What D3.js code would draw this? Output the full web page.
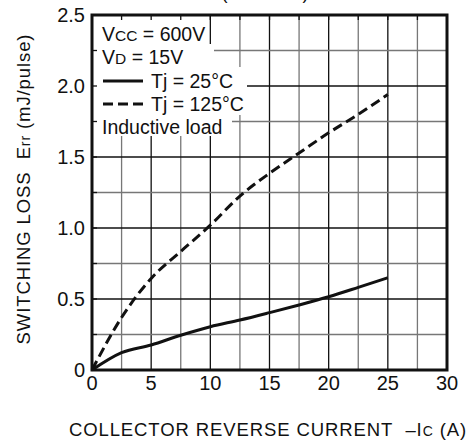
<!DOCTYPE html>
<html>
<head>
<meta charset="utf-8">
<style>
  body { margin: 0; background: #fff; }
  svg text { font-family: "Liberation Sans", Arial, sans-serif; fill: #111; }
</style>
</head>
<body>
<svg id="chart" width="470" height="445"></svg>
<script src="https://cdn.jsdelivr.net/npm/d3@7/dist/d3.min.js"></script>
<script>
// collector reverse current (A)
const current = [0, 2.5, 5, 7.5, 10, 12.5, 15, 17.5, 20, 22.5, 25];
// Err at Tj = 25C (solid) and Tj = 125C (dashed), mJ/pulse
const err25 = [0, 0.122, 0.176, 0.245, 0.305, 0.352, 0.404, 0.458, 0.516, 0.582, 0.65];
const err125 = [0, 0.37, 0.645, 0.835, 1.02, 1.225, 1.385, 1.528, 1.67, 1.8, 1.94];
const xTicks = [0, 5, 10, 15, 20, 25, 30];
const yTicks = [0, 0.5, 1.0, 1.5, 2.0, 2.5];
const yTickLabels = ["0", "0.5", "1.0", "1.5", "2.0", "2.5"];

const L = 92, R = 447, T = 15, B = 370;
const svg = d3.select("#chart");
const x = d3.scaleLinear().domain([0, 30]).range([L, R]);
const y = d3.scaleLinear().domain([0, 2.5]).range([B, T]);

const xGrid = d3.range(2.5, 30, 2.5);
const yGrid = d3.range(0.25, 2.5, 0.25);
const isMajor = (v, step) => Math.abs(v / step - Math.round(v / step)) < 1e-6;

// grid
svg.append("g").selectAll("line").data(xGrid).join("line")
  .attr("x1", d => x(d)).attr("x2", d => x(d)).attr("y1", T).attr("y2", B)
  .attr("stroke", d => isMajor(d, 5) ? "#111" : "#777").attr("stroke-width", 1.3);
svg.append("g").selectAll("line").data(yGrid).join("line")
  .attr("y1", d => y(d)).attr("y2", d => y(d)).attr("x1", L).attr("x2", R)
  .attr("stroke", d => isMajor(d, 0.5) ? "#111" : "#777").attr("stroke-width", 1.3);

// white boxes behind the legend text
const boxes = [[207, T, 44], [214, 44, 67], [247, 67, 92], [247, 92, 115], [232, 115, 136]];
svg.append("g").selectAll("rect").data(boxes).join("rect")
  .attr("x", L).attr("y", d => d[1]).attr("width", d => d[0] - L).attr("height", d => d[2] - d[1])
  .attr("fill", "#fff");

// small inner ticks on top and left edges
svg.append("g").selectAll("line").data(xGrid).join("line")
  .attr("x1", d => x(d)).attr("x2", d => x(d)).attr("y1", T).attr("y2", T + 5)
  .attr("stroke", "#111").attr("stroke-width", 1.3);
svg.append("g").selectAll("line").data(yGrid).join("line")
  .attr("y1", d => y(d)).attr("y2", d => y(d)).attr("x1", L).attr("x2", L + 5)
  .attr("stroke", "#111").attr("stroke-width", 1.3);

// curves
const line = d3.line().x(d => x(d[0])).y(d => y(d[1])).curve(d3.curveMonotoneX);
svg.append("path").datum(d3.zip(current, err25)).attr("d", line)
  .attr("fill", "none").attr("stroke", "#111").attr("stroke-width", 3);
svg.append("path").datum(d3.zip(current, err125)).attr("d", line)
  .attr("fill", "none").attr("stroke", "#111").attr("stroke-width", 3)
  .attr("stroke-dasharray", "10,5");

// frame
svg.append("rect").attr("x", L).attr("y", T).attr("width", R - L).attr("height", B - T)
  .attr("fill", "none").attr("stroke", "#111").attr("stroke-width", 3);

// tick labels
svg.append("g").selectAll("text").data(xTicks).join("text")
  .attr("x", d => x(d)).attr("y", 390).attr("text-anchor", "middle")
  .attr("font-size", 20).text(d => d);
svg.append("g").selectAll("text").data(yTicks).join("text")
  .attr("x", 85).attr("y", d => y(d)).attr("dy", "0.35em").attr("text-anchor", "end")
  .attr("font-size", 20).text((d, i) => yTickLabels[i]);

// legend
const lg = svg.append("g").attr("font-size", 19.5);
const t1 = lg.append("text").attr("x", 102).attr("y", 41);
t1.append("tspan").text("V");
t1.append("tspan").attr("font-size", 15.5).text("CC");
t1.append("tspan").text(" = 600V");
const t2 = lg.append("text").attr("x", 102).attr("y", 64);
t2.append("tspan").text("V");
t2.append("tspan").attr("font-size", 15.5).text("D");
t2.append("tspan").text(" = 15V");
lg.append("line").attr("x1", 103).attr("x2", 143).attr("y1", 81).attr("y2", 81)
  .attr("stroke", "#111").attr("stroke-width", 3);
lg.append("text").attr("x", 151).attr("y", 88).text("Tj = 25°C");
lg.append("line").attr("x1", 103).attr("x2", 143).attr("y1", 104).attr("y2", 104)
  .attr("stroke", "#111").attr("stroke-width", 3).attr("stroke-dasharray", "10,5");
lg.append("text").attr("x", 151).attr("y", 111).text("Tj = 125°C");
lg.append("text").attr("x", 102).attr("y", 134).text("Inductive load");

// axis titles
const yt = svg.append("text").attr("transform", "translate(30,189) rotate(-90)")
  .attr("text-anchor", "middle").attr("font-size", 18.5).attr("letter-spacing", 0.9);
yt.append("tspan").text("SWITCHING LOSS\u00a0\u00a0E");
yt.append("tspan").attr("font-size", 14).text("rr");
yt.append("tspan").text(" (mJ/pulse)");

const xt = svg.append("text").attr("x", 268).attr("y", 436)
  .attr("text-anchor", "middle").attr("font-size", 18.5).attr("letter-spacing", 0.9);
xt.append("tspan").text("COLLECTOR REVERSE CURRENT\u00a0\u00a0–I");
xt.append("tspan").attr("font-size", 14).text("C");
xt.append("tspan").text(" (A)");

// cut-off caption at the very top
svg.append("text").attr("x", 265).attr("y", -1).attr("text-anchor", "middle")
  .attr("font-size", 18).text("(TYPICAL)");
</script>
</body>
</html>
